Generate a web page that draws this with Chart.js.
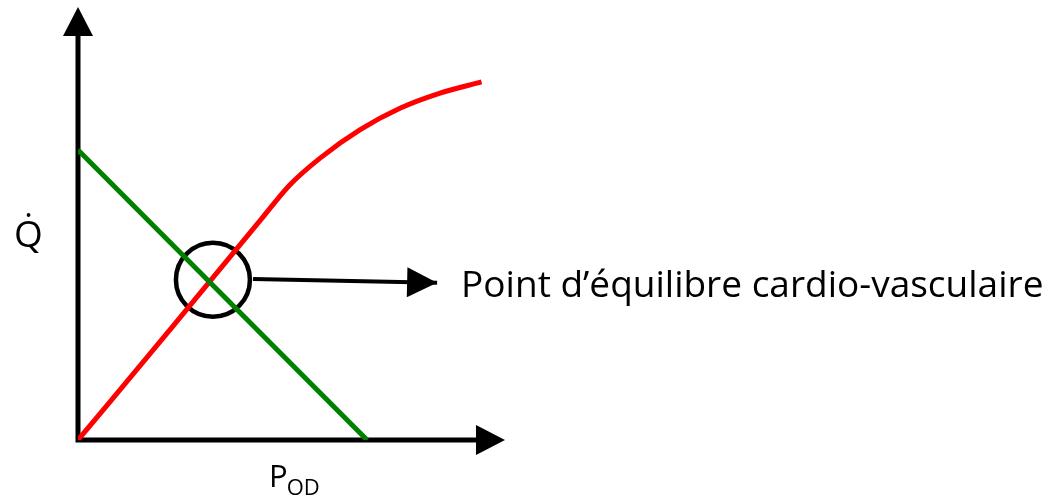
<!DOCTYPE html>
<html>
<head>
<meta charset="utf-8">
<script src="https://cdn.jsdelivr.net/npm/chart.js@4.4.0/dist/chart.umd.min.js"></script>
<style>
  html, body { margin: 0; padding: 0; background: #fff; }
  #wrap { width: 1056px; height: 504px; position: relative; }
</style>
</head>
<body>
<div id="wrap"><canvas id="chart"></canvas></div>
<script>
// courbe de retour veineux (verte) et courbe de fonction cardiaque (rouge)
const venousX = [0, 67.7];
const venousY = [67, 0];
const cardiacX = [0, 22, 43.4, 49.6, 56.7, 66.0, 75.4, 84.8, 94.5];
const cardiacY = [0, 26, 51.6, 58.9, 65.1, 71.6, 76.6, 80.1, 82.7];
// point d'équilibre et flèche vers l'étiquette
const equilibrium = [31.6, 37.0];
const pointerX = [41.0, 84.1];
const pointerY = [37.2, 36.3];
const labels = {
  y: 'Q\u0307',
  x: 'P',
  xSub: 'OD',
  point: 'Point d\u2019équilibre cardio-vasculaire'
};

const toPoints = (xs, ys) => xs.map((x, i) => ({ x: x, y: ys[i] }));

function arrowHead(ctx, x0, y0, x1, y1, len, half) {
  const a = Math.atan2(y1 - y0, x1 - x0);
  ctx.beginPath();
  ctx.moveTo(x1, y1);
  ctx.lineTo(x1 - len * Math.cos(a) + half * Math.sin(a), y1 - len * Math.sin(a) - half * Math.cos(a));
  ctx.lineTo(x1 - len * Math.cos(a) - half * Math.sin(a), y1 - len * Math.sin(a) + half * Math.cos(a));
  ctx.closePath();
  ctx.fill();
}

// axes avec flèches + textes
const axesPlugin = {
  id: 'axesArrows',
  beforeDatasetsDraw(chart) {
    const ctx = chart.ctx;
    const xs = chart.scales.x, ys = chart.scales.y;
    const ox = xs.getPixelForValue(0), oy = ys.getPixelForValue(0);
    const xEnd = xs.getPixelForValue(xs.max), yEnd = ys.getPixelForValue(ys.max);
    ctx.save();
    ctx.strokeStyle = '#000';
    ctx.fillStyle = '#000';
    ctx.lineWidth = 5;
    ctx.beginPath();
    ctx.moveTo(ox, oy + 2.5);
    ctx.lineTo(ox, yEnd + 20);
    ctx.moveTo(ox - 2.5, oy);
    ctx.lineTo(xEnd - 20, oy);
    ctx.stroke();
    arrowHead(ctx, ox, oy, ox, yEnd, 29, 15);
    arrowHead(ctx, ox, oy, xEnd, oy, 29, 15);
    ctx.restore();
  },
  afterDatasetsDraw(chart) {
    const ctx = chart.ctx;
    const xs = chart.scales.x, ys = chart.scales.y;
    const ds = chart.getDatasetMeta(3).data;
    ctx.save();
    ctx.fillStyle = '#000';
    arrowHead(ctx, ds[0].x, ds[0].y, ds[1].x, ds[1].y, 30, 15);

    ctx.textBaseline = 'alphabetic';
    ctx.font = '37px "Open Sans"';
    ctx.textAlign = 'left';
    ctx.fillText(labels.point, ds[1].x + 24, ds[1].y + 14);

    // Q point
    ctx.font = '37px "Open Sans"';
    ctx.fillText(labels.y, xs.left - 64, ys.getPixelForValue(44.6));

    // P_OD
    const px = xs.left + 191, py = ys.bottom + 47;
    ctx.font = '31px "Open Sans"';
    ctx.fillText(labels.x, px, py);
    const pw = ctx.measureText(labels.x).width;
    ctx.font = '22px "Open Sans"';
    ctx.fillText(labels.xSub, px + pw - 1, py + 8);
    ctx.restore();
  }
};

new Chart(document.getElementById('chart'), {
  type: 'scatter',
  data: {
    datasets: [
      {
        label: 'Retour veineux',
        data: toPoints(venousX, venousY),
        showLine: true,
        borderColor: '#008000',
        borderWidth: 5,
        pointRadius: 0
      },
      {
        label: 'Fonction cardiaque',
        data: toPoints(cardiacX, cardiacY),
        showLine: true,
        borderColor: '#ff0000',
        borderWidth: 5,
        pointRadius: 0,
        cubicInterpolationMode: 'monotone'
      },
      {
        label: 'Équilibre',
        data: [{ x: equilibrium[0], y: equilibrium[1] }],
        pointRadius: 37,
        pointBorderWidth: 4.5,
        pointBorderColor: '#000',
        pointBackgroundColor: 'rgba(0,0,0,0)'
      },
      {
        label: 'Flèche',
        data: toPoints(pointerX, pointerY),
        showLine: true,
        borderColor: '#000',
        borderWidth: 4,
        pointRadius: 0
      }
    ]
  },
  options: {
    responsive: true,
    maintainAspectRatio: false,
    animation: false,
    layout: { autoPadding: false, padding: { left: 78, right: 551, top: 7, bottom: 64 } },
    plugins: { legend: { display: false }, tooltip: { enabled: false } },
    scales: {
      x: { type: 'linear', min: 0, max: 100, display: false },
      y: { type: 'linear', min: 0, max: 100, display: false }
    }
  },
  plugins: [axesPlugin]
});
</script>
</body>
</html>
